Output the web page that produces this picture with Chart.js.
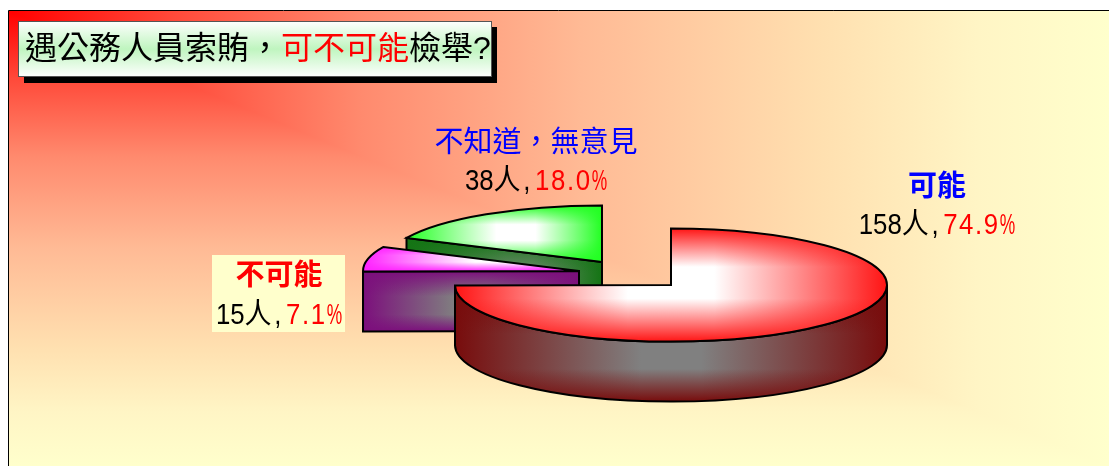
<!DOCTYPE html>
<html lang="zh-Hant">
<head>
<meta charset="utf-8">
<title>遇公務人員索賄,可不可能檢舉?</title>
<script src="https://cdn.jsdelivr.net/npm/chart.js@4"></script>
<style>
html,body{margin:0;padding:0;background:#fff;overflow:hidden}
canvas{display:block}
</style>
</head>
<body>
<canvas id="c" width="1109" height="466"></canvas>
<script>
const categories = ['可能', '不可能', '不知道\uff0c無意見'];
const counts = [158, 15, 38];
const percents = ['74.9', '7.1', '18.0'];
const titleParts = ['遇公務人員索賄\uff0c', '可不可能', '檢舉?'];

const FONT = '"Liberation Sans","Noto Sans CJK TC",sans-serif';
const SQUASH = 0.262, DEPTH = 60;
const shift = [[0, 0], [-92, -14], [-69, -23]];
const topEdge = ['#ff1414', '#ff22ff', '#22ff22'];
const wallEdge = ['#780c0c', '#7c0f7c', '#147414'];
const wallMid = ['#808080', '#808080', '#708a70'];
const midX = [0.5, 0.62, 0.56];
const wallMidX = [0.5, 0.5, 0.58];
const nameColor = ['#0000ff', '#ff0000', '#0000ff'];
const nameBold = [true, true, false];
const labelPos = [[937, 188, 226], [279, 277, 316], [536, 144, 182]];
const drawOrder = [2, 1, 0];

function alpha(hex, a) {
  const n = parseInt(hex.slice(1), 16);
  return `rgba(${n >> 16},${(n >> 8) & 255},${n & 255},${a})`;
}
function pathFill(ctx, build, box, edge, mid, cx, vLo, vHi, half) {
  const h = ctx.createLinearGradient(box[0], 0, box[1], 0);
  h.addColorStop(0, edge);
  h.addColorStop(Math.max(cx - half, 0), mid);
  h.addColorStop(Math.min(cx + half, 1), mid);
  h.addColorStop(1, edge);
  ctx.beginPath(); build(); ctx.closePath();
  ctx.fillStyle = h; ctx.fill();
  const v = ctx.createLinearGradient(0, box[2], 0, box[3]);
  v.addColorStop(0, alpha(edge, 1));
  v.addColorStop(vLo, alpha(edge, 0));
  v.addColorStop(vHi, alpha(edge, 0));
  v.addColorStop(1, alpha(edge, 1));
  ctx.beginPath(); build(); ctx.closePath();
  ctx.fillStyle = v; ctx.fill();
  ctx.lineWidth = 2; ctx.lineJoin = 'miter'; ctx.strokeStyle = '#000';
  ctx.beginPath(); build(); ctx.closePath(); ctx.stroke();
}
function drawSlice(ctx, arc, i) {
  const R = arc.outerRadius, ry = R * SQUASH;
  const x = arc.x + shift[i][0], y = arc.y + shift[i][1];
  const s = arc.startAngle, e = arc.endAngle;
  const pts = [];
  const N = 60;
  for (let k = 0; k <= N; k++) {
    const t = s + (e - s) * k / N;
    pts.push([x + R * Math.cos(t), y + ry * Math.sin(t)]);
  }
  const xs = pts.map(p => p[0]).concat(x), ys = pts.map(p => p[1]).concat(y);
  const box = [Math.min(...xs), Math.max(...xs), Math.min(...ys), Math.max(...ys)];
  const wbox = [box[0], box[1], i === 2 ? y - 24 : y, box[3] + DEPTH];

  const wall = build => pathFill(ctx, build, wbox, wallEdge[i], wallMid[i], wallMidX[i], 0.42, 0.72, 0.07);
  if (Math.cos(s) < -1e-6) {
    wall(() => {
      const ax = x + R * Math.cos(s), ay = y + ry * Math.sin(s);
      ctx.moveTo(x, y); ctx.lineTo(ax, ay); ctx.lineTo(ax, ay + DEPTH); ctx.lineTo(x, y + DEPTH);
    });
  }
  const a = Math.max(s, 0), b = Math.min(e, Math.PI);
  if (b > a) {
    wall(() => {
      ctx.ellipse(x, y, R, ry, 0, a, b, false);
      ctx.ellipse(x, y + DEPTH, R, ry, 0, b, a, true);
    });
  }
  pathFill(ctx, () => {
    ctx.moveTo(x, y);
    ctx.ellipse(x, y, R, ry, 0, s, e, false);
  }, box, topEdge[i], '#ffffff', midX[i], 0.34, 0.62, 0.1);
}
// parts: [text, colour, letter spacing, horizontal scale]
function runs(ctx, parts, cx, y, font, baseScale) {
  ctx.font = font;
  ctx.textBaseline = 'middle';
  ctx.textAlign = 'left';
  let total = 0;
  parts.forEach(p => {
    ctx.letterSpacing = (p[2] || 0) + 'px';
    p.sx = p[3] || baseScale || 1;
    p.w = ctx.measureText(p[0]).width * p.sx;
    total += p.w;
  });
  let x = cx - total / 2;
  parts.forEach(p => {
    ctx.letterSpacing = (p[2] || 0) + 'px';
    ctx.fillStyle = p[1];
    ctx.save();
    ctx.translate(x, y);
    ctx.scale(p.sx, 1);
    ctx.fillText(p[0], 0, 0);
    ctx.restore();
    x += p.w;
  });
  ctx.letterSpacing = '0px';
}
const scenery = {
  id: 'scenery',
  beforeDraw(chart) {
    const ctx = chart.ctx, L = 9, T = 11, W = 1109, H = 466;
    const stops = [[0, '#ff0000'], [0.15, '#ff4a3a'], [0.32, '#ff8a6e'], [0.52, '#ffba95'], [0.74, '#ffe0b0'], [0.88, '#fff5c5'], [1, '#ffffcc']];
    ctx.save();
    const gx = ctx.createLinearGradient(L, 0, W, 0);
    const gy = ctx.createLinearGradient(0, T, 0, H);
    stops.forEach(s => { gx.addColorStop(s[0], s[1]); gy.addColorStop(s[0], s[1]); });
    ctx.fillStyle = gx; ctx.fillRect(L, T, W - L, H - T);
    ctx.globalCompositeOperation = 'lighten';
    ctx.fillStyle = gy; ctx.fillRect(L, T, W - L, H - T);
    ctx.globalCompositeOperation = 'source-over';
    ctx.strokeStyle = '#000'; ctx.lineWidth = 1;
    ctx.beginPath(); ctx.moveTo(8.5, H); ctx.lineTo(8.5, 10.5); ctx.lineTo(W, 10.5); ctx.stroke();
    ctx.fillStyle = '#ffffcc'; ctx.fillRect(212, 255, 133, 77);
    ctx.restore();
  },
  beforeDatasetsDraw(chart) {
    const ctx = chart.ctx, arcs = chart.getDatasetMeta(0).data;
    ctx.save();
    drawOrder.forEach(i => drawSlice(ctx, arcs[i], i));
    ctx.restore();
    return false;
  },
  afterDraw(chart) {
    const ctx = chart.ctx;
    ctx.save();
    ctx.fillStyle = '#000'; ctx.fillRect(24, 27, 473, 56);
    const g = ctx.createLinearGradient(0, 21, 0, 77);
    g.addColorStop(0, '#ffffff'); g.addColorStop(0.5, '#bff5bf'); g.addColorStop(1, '#ffffff');
    ctx.fillStyle = g; ctx.fillRect(18.5, 21.5, 473, 55);
    ctx.strokeStyle = '#555'; ctx.lineWidth = 1; ctx.strokeRect(18.5, 21.5, 473, 55);
    runs(ctx, [[titleParts[0], '#000'], [titleParts[1], '#ff0000'], [titleParts[2], '#000']], 258, 50, `32px ${FONT}`);
    categories.forEach((name, i) => {
      const p = labelPos[i];
      runs(ctx, [[name, nameColor[i]]], p[0], p[1], `${nameBold[i] ? 'bold ' : ''}29px ${FONT}`);
      runs(ctx, [
        [String(counts[i]), '#000'],
        ['人', '#000', 3, 0.93],
        [',', '#000', 5],
        [percents[i], '#ff0000', 1.8],
        ['%', '#ff0000', 0, 0.6]
      ], p[0], p[2], `29px ${FONT}`, 0.89);
    });
    ctx.restore();
  }
};
new Chart(document.getElementById('c'), {
  type: 'pie',
  data: { labels: categories, datasets: [{ data: counts, backgroundColor: topEdge, borderColor: '#000' }] },
  options: {
    responsive: false, animation: false, radius: 216,
    layout: { padding: { left: 455, right: 222, top: 104, bottom: 0 } },
    plugins: { legend: { display: false }, tooltip: { enabled: false }, title: { display: false } },
    events: []
  },
  plugins: [scenery]
});
</script>
</body>
</html>
